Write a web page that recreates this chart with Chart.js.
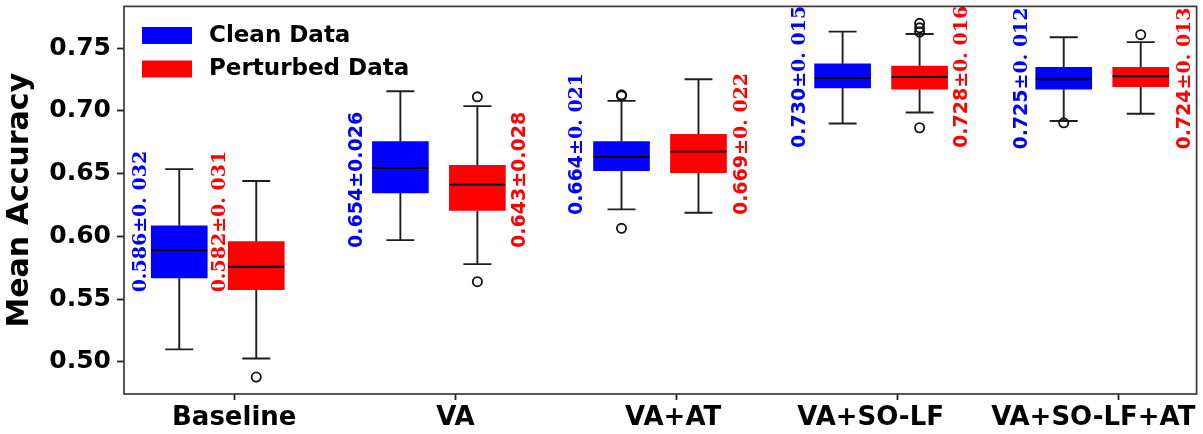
<!DOCTYPE html>
<html><head><meta charset="utf-8">
<script src="https://cdn.jsdelivr.net/npm/chart.js@4.4.1/dist/chart.umd.min.js"></script>
<style>html,body{margin:0;padding:0;background:#fff;}</style>
</head><body>
<canvas id="c" width="1203" height="434" style="width:1203px;height:434px;display:block"></canvas>
<script>
// ---------- data ----------
const categories = ['Baseline', 'VA', 'VA+AT', 'VA+SO-LF', 'VA+SO-LF+AT'];
const yTicks = [0.50, 0.55, 0.60, 0.65, 0.70, 0.75];

const cleanLow    = [0.510, 0.597, 0.6215, 0.690, 0.692];
const cleanQ1     = [0.567, 0.6346, 0.6523, 0.7183, 0.7173];
const cleanMedian = [0.5892, 0.6544, 0.6634, 0.7262, 0.7252];
const cleanQ3     = [0.6085, 0.6756, 0.6756, 0.7376, 0.7347];
const cleanHigh   = [0.6536, 0.7157, 0.708, 0.7632, 0.7587];
const cleanOutliers = [[], [], [0.6064, 0.7120, 0.7128], [], [0.6905]];
const cleanMean   = [0.586, 0.654, 0.664, 0.730, 0.725];
const cleanStd    = [0.032, 0.026, 0.021, 0.015, 0.012];

const pertLow     = [0.5027, 0.5779, 0.6188, 0.6988, 0.6977];
const pertQ1      = [0.5576, 0.6207, 0.6508, 0.7173, 0.7194];
const pertMedian  = [0.5758, 0.6413, 0.6676, 0.7270, 0.7276];
const pertQ3      = [0.5958, 0.6566, 0.6814, 0.7357, 0.7347];
const pertHigh    = [0.6441, 0.7038, 0.7252, 0.7613, 0.7548];
const pertOutliers = [[0.4879], [0.5639, 0.7112], [], [0.6866, 0.7628, 0.7662, 0.7698], [0.7608]];
const pertMean    = [0.582, 0.643, 0.669, 0.728, 0.724];
const pertStd     = [0.031, 0.028, 0.022, 0.016, 0.013];

// ---------- layout / style ----------
const BLUE = '#0000ff', RED = '#ff0000';
const X_MIN = -0.4986, X_MAX = 4.3522, Y_MIN = 0.4744, Y_MAX = 0.7833;
const CLEAN_OFF = -0.2487, PERT_OFF = 0.0995;
const BOX_HALF = 0.1266, CAP_HALF = 0.0633;
const labelTickPos = [0, 1, 1.985, 2.878, 3.885];
const cleanTextOff = [-0.428, -0.453, -0.460, -0.450, -0.444];
const pertTextOff  = [-0.075, 0.284, 0.2875, 0.281, 0.290];
const textBottom   = [0.5554, 0.5908, 0.617, 0.6705, 0.6692];
const textStyle    = ['serif', 'sans', 'mixed', 'mixed', 'mixed'];

function whiskers(low, q1, q3, high, off) {
  const pts = [];
  categories.forEach((c, i) => {
    const x = i + off;
    pts.push({x, y: low[i]}, {x, y: q1[i]}, {x, y: null});
    pts.push({x, y: q3[i]}, {x, y: high[i]}, {x, y: null});
    pts.push({x: x - CAP_HALF, y: low[i]}, {x: x + CAP_HALF, y: low[i]}, {x, y: null});
    pts.push({x: x - CAP_HALF, y: high[i]}, {x: x + CAP_HALF, y: high[i]}, {x, y: null});
  });
  return pts;
}
function medians(med, off) {
  const pts = [];
  categories.forEach((c, i) => {
    const x = i + off;
    pts.push({x: x - BOX_HALF, y: med[i]}, {x: x + BOX_HALF, y: med[i]}, {x, y: null});
  });
  return pts;
}
function outlierPts(outs, off) {
  const pts = [];
  outs.forEach((arr, i) => arr.forEach(v => pts.push({x: i + off, y: v})));
  return pts;
}
const lineBase = {type: 'line', borderColor: '#1e1e1e', borderWidth: 1.9, pointRadius: 0, fill: false, spanGaps: false, tension: 0};

const datasets = [
  {type: 'scatter', data: outlierPts(cleanOutliers, CLEAN_OFF), pointRadius: 4.6, pointBorderWidth: 1.8,
   pointBorderColor: '#111', pointBackgroundColor: 'rgba(0,0,0,0)', order: 0},
  {type: 'scatter', data: outlierPts(pertOutliers, PERT_OFF), pointRadius: 4.6, pointBorderWidth: 1.8,
   pointBorderColor: '#111', pointBackgroundColor: 'rgba(0,0,0,0)', order: 0},
  Object.assign({}, lineBase, {data: medians(cleanMedian, CLEAN_OFF), borderColor: '#000', order: 1}),
  Object.assign({}, lineBase, {data: medians(pertMedian, PERT_OFF), borderColor: '#000', order: 1}),
  {type: 'bar', label: 'Clean Data', data: categories.map((c, i) => ({x: i + CLEAN_OFF, y: [cleanQ1[i], cleanQ3[i]]})),
   backgroundColor: BLUE, barThickness: 56, grouped: false, order: 2},
  {type: 'bar', label: 'Perturbed Data', data: categories.map((c, i) => ({x: i + PERT_OFF, y: [pertQ1[i], pertQ3[i]]})),
   backgroundColor: RED, barThickness: 56, grouped: false, order: 2},
  Object.assign({}, lineBase, {data: whiskers(cleanLow, cleanQ1, cleanQ3, cleanHigh, CLEAN_OFF), order: 3}),
  Object.assign({}, lineBase, {data: whiskers(pertLow, pertQ1, pertQ3, pertHigh, PERT_OFF), order: 3}),
];

const framePlugin = {
  id: 'frame',
  afterDraw(chart) {
    const {ctx, chartArea: a} = chart;
    ctx.save();
    ctx.strokeStyle = '#3a3a3a';
    ctx.lineWidth = 1.7;
    ctx.strokeRect(a.left, a.top, a.right - a.left, a.bottom - a.top);
    ctx.restore();
  }
};

const legendPlugin = {
  id: 'inlegend',
  afterDraw(chart) {
    const ctx = chart.ctx;
    const items = [['Clean Data', BLUE, 27], ['Perturbed Data', RED, 60.5]];
    ctx.save();
    ctx.font = 'bold 23px "DejaVu Sans"';
    ctx.textBaseline = 'middle';
    ctx.textAlign = 'left';
    items.forEach(([t, col, y]) => {
      ctx.fillStyle = col;
      ctx.fillRect(142, y, 50, 17);
      ctx.fillStyle = '#000';
      ctx.fillText(t, 209, y + 9);
    });
    ctx.restore();
  }
};

const statPlugin = {
  id: 'stats',
  afterDatasetsDraw(chart) {
    const ctx = chart.ctx, xs = chart.scales.x, ys = chart.scales.y;
    const fs = 19;
    const sans = `bold ${fs}px "DejaVu Sans"`, serif = `bold ${fs}px "DejaVu Serif"`;
    function draw(mean, std, off, bottom, color, style, i) {
      const m = mean.toFixed(3);
      const s = std.toFixed(3);
      let parts;
      if (style === 'serif') parts = [[m, serif], ['\u00b10. ' + s.slice(2), serif]];
      else if (style === 'sans') parts = [[m, sans], ['\u00b1' + s, sans]];
      else parts = [[m, sans], ['\u00b10. ' + s.slice(2), serif]];
      const cx = xs.getPixelForValue(i + off);
      const by = ys.getPixelForValue(bottom);
      ctx.save();
      ctx.translate(cx + 0.36 * fs, by);
      ctx.rotate(-Math.PI / 2);
      ctx.fillStyle = color;
      ctx.textAlign = 'left';
      ctx.textBaseline = 'alphabetic';
      let x = 0;
      parts.forEach(([t, f]) => { ctx.font = f; ctx.fillText(t, x, 0); x += ctx.measureText(t).width; });
      ctx.restore();
    }
    categories.forEach((c, i) => {
      draw(cleanMean[i], cleanStd[i], cleanTextOff[i], textBottom[i], BLUE, textStyle[i], i);
      draw(pertMean[i], pertStd[i], pertTextOff[i], textBottom[i], RED, textStyle[i], i);
    });
  }
};

new Chart(document.getElementById('c'), {
  type: 'bar',
  data: {datasets},
  options: {
    responsive: false,
    devicePixelRatio: 1,
    animation: false,
    events: [],
    layout: {padding: {left: 0, top: 4, right: 6, bottom: 0}},
    plugins: {legend: {display: false}, tooltip: {enabled: false}},
    scales: {
      x: {
        type: 'linear', position: 'bottom', min: X_MIN, max: X_MAX, offset: false,
        afterBuildTicks: s => { s.ticks = categories.map((c, i) => ({value: i})); },
        ticks: {display: false},
        grid: {drawOnChartArea: false, drawTicks: true, tickLength: 6, tickColor: '#222', tickWidth: 1.8, offset: false},
        border: {display: false},
        afterFit: s => { s.height = 6; s.paddingLeft = 0; s.paddingRight = 0; }
      },
      x2: {
        type: 'linear', position: 'bottom', min: X_MIN, max: X_MAX, offset: false,
        afterBuildTicks: s => { s.ticks = labelTickPos.map(v => ({value: v})); },
        ticks: {callback: (v, i) => categories[i], font: {family: 'DejaVu Sans', weight: 'bold', size: 26},
                color: '#000', padding: -5, maxRotation: 0, minRotation: 0, autoSkip: false},
        grid: {display: false, offset: false},
        border: {display: false},
        afterFit: s => { s.height = 34; s.paddingLeft = 0; s.paddingRight = 0; }
      },
      y: {
        type: 'linear', min: Y_MIN, max: Y_MAX,
        afterBuildTicks: s => { s.ticks = yTicks.map(v => ({value: v})); },
        ticks: {callback: v => v.toFixed(2), font: {family: 'DejaVu Sans', weight: 'bold', size: 25}, color: '#000', padding: 6},
        grid: {drawOnChartArea: false, drawTicks: true, tickLength: 7, tickColor: '#222', tickWidth: 1.8},
        border: {display: false},
        title: {display: true, text: 'Mean Accuracy', font: {family: 'DejaVu Sans', weight: 'bold', size: 30}, color: '#000', padding: {top: 2, bottom: 0}},
        afterFit: s => { s.width = 124; s.paddingTop = 0; s.paddingBottom = 0; }
      }
    }
  },
  plugins: [framePlugin, legendPlugin, statPlugin]
});
</script>
</body></html>
